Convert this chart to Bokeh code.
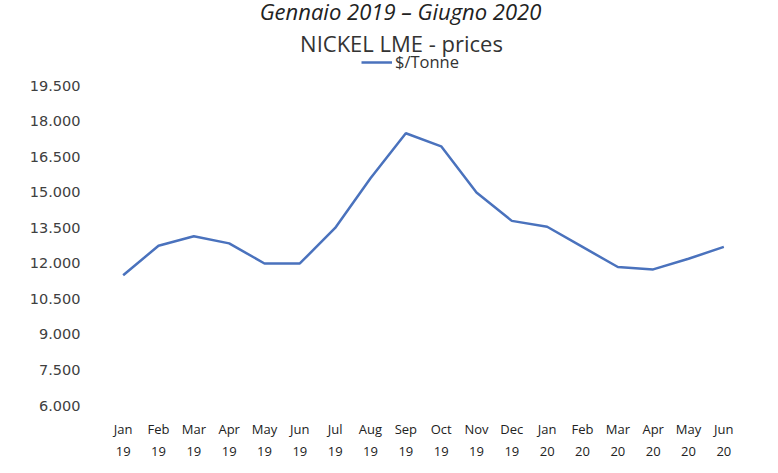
from bokeh.plotting import figure
from bokeh.models import (ColumnDataSource, Range1d, FixedTicker, Legend, LegendItem,
                          Label, LinearAxis)
from bokeh.embed import file_html
from bokeh.resources import INLINE

month_names = ["Jan", "Feb", "Mar", "Apr", "May", "Jun", "Jul", "Aug", "Sep",
               "Oct", "Nov", "Dec", "Jan", "Feb", "Mar", "Apr", "May", "Jun"]
month_years = ["19", "19", "19", "19", "19", "19", "19", "19", "19",
               "19", "19", "19", "20", "20", "20", "20", "20", "20"]
prices = [11500, 12750, 13150, 12850, 12000, 12000,
          13500, 15600, 17500, 16950, 15000, 13800,
          13550, 12700, 11850, 11750, 12200, 12700]
y_ticks = [6000, 7500, 9000, 10500, 12000, 13500, 15000, 16500, 18000, 19500]
y_tick_labels = ["6.000", "7.500", "9.000", "10.500", "12.000", "13.500",
                 "15.000", "16.500", "18.000", "19.500"]
heading = "Gennaio 2019 – Giugno 2020"
chart_title = "NICKEL LME - prices"
series_name = "$/Tonne"

xpos = [i + 0.5 for i in range(len(prices))]
source = ColumnDataSource(dict(x=xpos, price=prices))

# frame extends above the top tick so that heading, title and legend sit inside it
p = figure(width=770, height=465, output_backend="svg", toolbar_location=None,
           x_range=Range1d(0, len(prices)),
           y_range=Range1d(6000, 23110),
           x_axis_location=None,
           min_border_left=105, min_border_right=29, min_border_top=0, min_border_bottom=60)
p.outline_line_color = None
p.background_fill_color = "white"
p.border_fill_color = "white"
p.xgrid.grid_line_color = None
p.ygrid.grid_line_color = None

r = p.line(x="x", y="price", source=source, line_color="#4a72bd", line_width=2.5)

p.yaxis.ticker = FixedTicker(ticks=y_ticks)
p.yaxis.major_label_overrides = {t: s for t, s in zip(y_ticks, y_tick_labels)}
p.yaxis.axis_line_color = None
p.yaxis.major_tick_line_color = None
p.yaxis.minor_tick_line_color = None
p.yaxis.major_label_standoff = 19
p.yaxis.major_label_text_font = "DejaVu Sans"
p.yaxis.major_label_text_font_size = "14.5px"
p.yaxis.major_label_text_color = "#404040"

for labels, standoff in ((month_names, 8), (month_years, 0)):
    ax = LinearAxis(ticker=FixedTicker(ticks=xpos),
                    major_label_overrides={x: s for x, s in zip(xpos, labels)},
                    axis_line_color=None, major_tick_line_color=None, minor_tick_line_color=None,
                    major_label_standoff=standoff, major_label_text_font="Open Sans",
                    major_label_text_font_size="13px", major_label_text_color="#222222")
    p.add_layout(ax, "below")

# screen units are relative to the frame's bottom-left corner (frame: left 105, bottom 405)
p.add_layout(Label(x=295, y=405 - 10, x_units="screen", y_units="screen", text=heading,
                   text_font="Open Sans", text_font_style="italic", text_font_size="22px",
                   text_color="#222222", text_align="center", text_baseline="alphabetic"))
p.add_layout(Label(x=296, y=405 - 42, x_units="screen", y_units="screen", text=chart_title,
                   text_font="Open Sans", text_font_size="22px", text_color="#333333",
                   text_align="center", text_baseline="middle"))

legend = Legend(items=[LegendItem(label=series_name, renderers=[r])], orientation="horizontal",
                location=(256, 332), border_line_color=None, background_fill_alpha=0,
                label_text_font="Open Sans", label_text_font_size="16.5px", label_text_color="#333333",
                glyph_width=31, margin=0, padding=0, label_standoff=3)
p.add_layout(legend)

open("out.html", "w").write(file_html(p, INLINE))
